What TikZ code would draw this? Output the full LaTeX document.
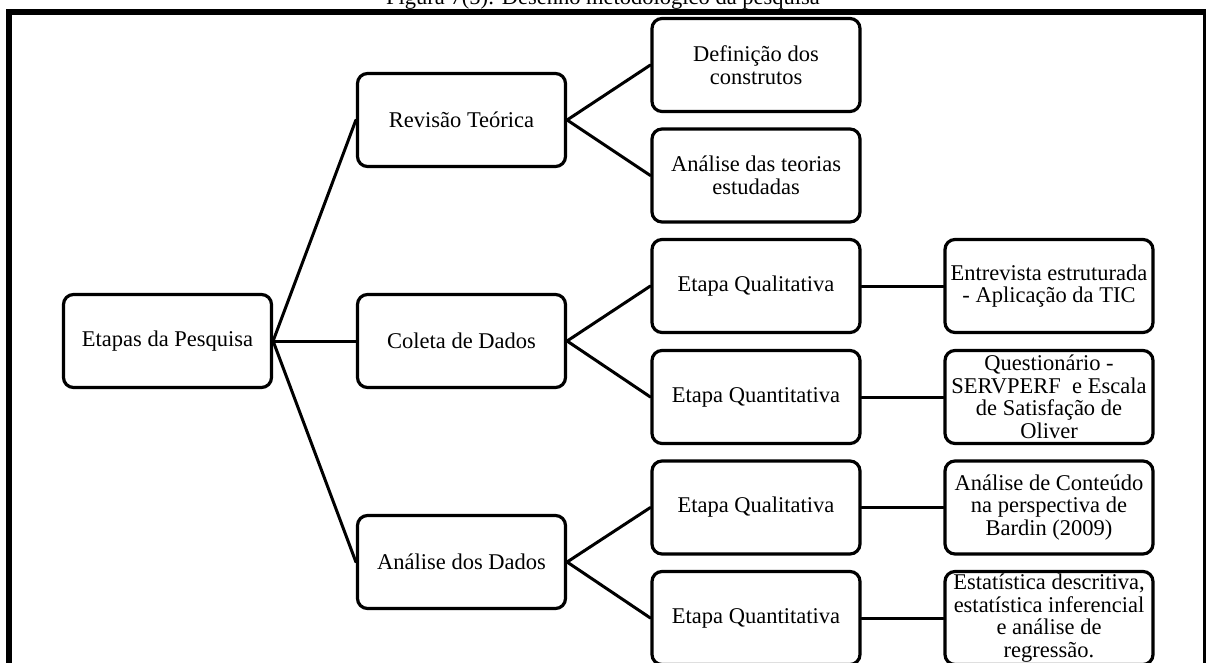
\documentclass[tikz,border=0pt]{standalone}
\usepackage{fontspec}
\setmainfont{Liberation Serif}
\begin{document}
\begin{tikzpicture}[x=1pt,y=-1pt,
  box/.style={draw=black, line width=3.2pt, rounded corners=10pt, fill=white,
    minimum width=208pt, minimum height=93pt, inner sep=1pt, align=center,
    font=\fontsize{22.5}{22.5}\selectfont},
  link/.style={line width=3pt, line cap=round}]
\useasboundingbox (0,0) rectangle (1206,662);
\node[font=\fontsize{22.5}{22.5}\selectfont, anchor=base] (title) at (603,4) {Figura 7(5): Desenho metodológico da pesquisa};
\draw[line width=6pt] (9,700) -- (9,12) -- (1206,12) -- (1206,700);
% column 1
\node[box] (etapas) at (167.5,341) {Etapas da Pesquisa};
% column 2
\node[box] (revisao) at (461.5,120) {Revisão Teórica};
\node[box] (coleta) at (461.5,341) {Coleta de Dados};
\node[box] (analise) at (461.5,562) {Análise dos Dados};
% column 3
\node[box] (defin) at (756,65) {Definição dos\\construtos};
\node[box] (teorias) at (756,175.5) {Análise das teorias\\estudadas};
\node[box] (qual1) at (756,286) {Etapa Qualitativa};
\node[box] (quant1) at (756,397) {Etapa Quantitativa};
\node[box] (qual2) at (756,507.5) {Etapa Qualitativa};
\node[box] (quant2) at (756,618) {Etapa Quantitativa};
% column 4
\node[box] (entrev) at (1049,286) {Entrevista estruturada\\- Aplicação da TIC};
\node[box] (quest) at (1049,397) {Questionário -\\SERVPERF\ \ e Escala\\de Satisfação de\\Oliver};
\node[box] (conteudo) at (1049,507.5) {Análise de Conteúdo\\na perspectiva de\\Bardin (2009)};
\node[box] (estat) at (1049,618) {Estatística descritiva,\\estatística inferencial\\e análise de\\regressão.};
% connectors
\draw[link] (etapas.east) -- (revisao.west);
\draw[link] (etapas.east) -- (coleta.west);
\draw[link] (etapas.east) -- (analise.west);
\draw[link] (revisao.east) -- (defin.west);
\draw[link] (revisao.east) -- (teorias.west);
\draw[link] (coleta.east) -- (qual1.west);
\draw[link] (coleta.east) -- (quant1.west);
\draw[link] (analise.east) -- (qual2.west);
\draw[link] (analise.east) -- (quant2.west);
\draw[link] (qual1.east) -- (entrev.west);
\draw[link] (quant1.east) -- (quest.west);
\draw[link] (qual2.east) -- (conteudo.west);
\draw[link] (quant2.east) -- (estat.west);
\end{tikzpicture}
\end{document}
